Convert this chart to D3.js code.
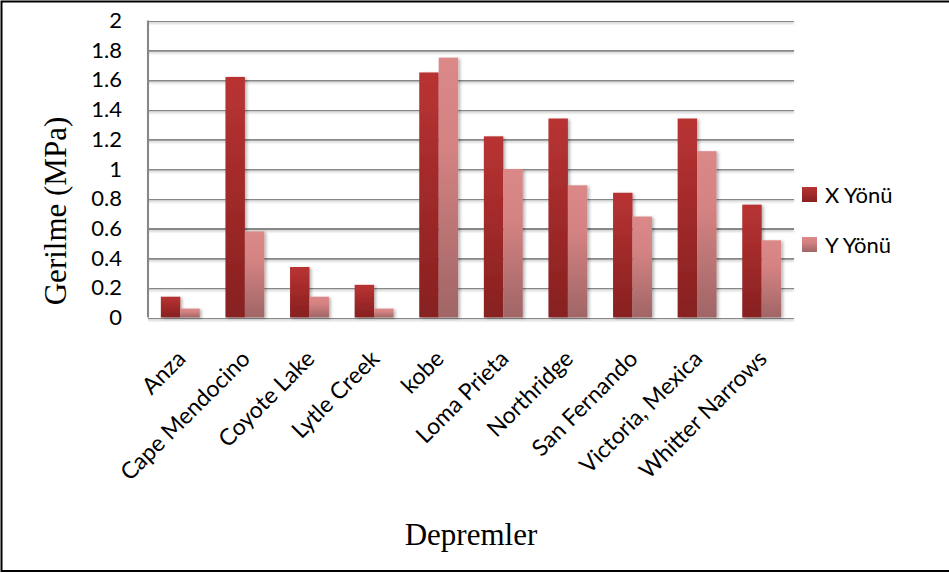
<!DOCTYPE html>
<html>
<head>
<meta charset="utf-8">
<script src="https://cdn.jsdelivr.net/npm/d3@7/dist/d3.min.js"></script>
<style>
  html, body { margin: 0; padding: 0; background: #fff; }
  svg { display: block; }
</style>
</head>
<body>
<svg id="chart" width="949" height="574"></svg>
<script>
// Earthquake records and peak stresses in two directions
const categories = ["Anza", "Cape Mendocino", "Coyote Lake", "Lytle Creek", "kobe",
  "Loma Prieta", "Northridge", "San Fernando", "Victoria, Mexica", "Whitter Narrows"];
const seriesNames = ["X Yönü", "Y Yönü"];
const xValues = [0.14, 1.62, 0.34, 0.22, 1.65, 1.22, 1.34, 0.84, 1.34, 0.76];
const yValues = [0.06, 0.58, 0.14, 0.06, 1.75, 1.00, 0.89, 0.68, 1.12, 0.52];
const yTicks = [0, 0.2, 0.4, 0.6, 0.8, 1, 1.2, 1.4, 1.6, 1.8, 2];

const rows = categories.map((c, i) => ({ name: c, values: [xValues[i], yValues[i]] }));

const svg = d3.select("#chart");
const W = 949, H = 574;
const plot = { left: 148, right: 794, top: 20.5, bottom: 317.5 };
const labelFont = "Lato, 'Open Sans', sans-serif";
const titleFont = "'Liberation Serif', 'Times New Roman', serif";
const gridColor = "#878787";

const defs = svg.append("defs");
const grads = [
  { id: "gx", stops: [["0%", "#b93333"], ["100%", "#872020"]] },
  { id: "gy", stops: [["0%", "#da8888"], ["35%", "#d48282"], ["100%", "#a06565"]] }
];
grads.forEach(g => {
  const lg = defs.append("linearGradient").attr("id", g.id)
    .attr("x1", 0).attr("y1", 0).attr("x2", 0).attr("y2", 1);
  g.stops.forEach(s => lg.append("stop").attr("offset", s[0]).attr("stop-color", s[1]));
});
const sh = defs.append("filter").attr("id", "shadow")
  .attr("x", "-20%").attr("y", "-20%").attr("width", "160%").attr("height", "140%");
sh.append("feDropShadow").attr("dx", 2).attr("dy", 1).attr("stdDeviation", 1.8)
  .attr("flood-color", "#000").attr("flood-opacity", 0.28);
// gridline shadow works in user space (lines have a zero-height bbox)
const gsh = defs.append("filter").attr("id", "gshadow")
  .attr("filterUnits", "userSpaceOnUse")
  .attr("x", 0).attr("y", 0).attr("width", W).attr("height", H);
gsh.append("feDropShadow").attr("dx", 0).attr("dy", 1.5).attr("stdDeviation", 0.8)
  .attr("flood-color", "#000").attr("flood-opacity", 0.22);

// outer frame
svg.append("path")
  .attr("d", `M${W + 5},1.5 H1.5 V571 H${W + 5}`)
  .attr("fill", "none").attr("stroke", "#000").attr("stroke-width", 2);

const x0 = d3.scaleBand().domain(categories).range([plot.left, plot.right]).paddingInner(0).paddingOuter(0);
const x1 = d3.scaleBand().domain(seriesNames).range([0, x0.bandwidth()]).paddingOuter(0.66).paddingInner(0);
const y = d3.scaleLinear().domain([0, 2]).range([plot.bottom, plot.top]);

// horizontal gridlines with left tick marks
const yAxis = d3.axisLeft(y).tickValues(yTicks).tickSize(-(plot.right - plot.left)).tickPadding(26)
  .tickFormat(d => d3.format("")(+d.toFixed(1)));
const gy = svg.append("g").attr("transform", `translate(${plot.left},0)`).call(yAxis);
gy.select(".domain").remove();
gy.selectAll(".tick line").attr("stroke", gridColor).attr("stroke-width", 2.1)
  .attr("x1", -7).attr("filter", "url(#gshadow)");
gy.selectAll(".tick text").attr("font-family", labelFont)
  .attr("font-size", 22).attr("fill", "#000");

// vertical axis line
svg.append("line").attr("x1", plot.left).attr("x2", plot.left)
  .attr("y1", plot.top).attr("y2", plot.bottom)
  .attr("stroke", gridColor).attr("stroke-width", 2.1);

// bars
const fills = ["url(#gx)", "url(#gy)"];
const groups = svg.append("g").selectAll("g").data(rows).join("g")
  .attr("transform", d => `translate(${x0(d.name)},0)`);
groups.selectAll("rect").data(d => d.values.map((v, i) => ({ v, s: seriesNames[i], i })))
  .join("rect")
  .attr("x", d => x1(d.s))
  .attr("width", x1.bandwidth())
  .attr("y", d => y(d.v))
  .attr("height", d => y(0) - y(d.v))
  .attr("fill", d => fills[d.i])
  .attr("filter", "url(#shadow)");

// category labels, rotated
const xAxis = d3.axisBottom(x0).tickSize(0).tickPadding(0);
const gx = svg.append("g").attr("transform", `translate(0,${plot.bottom})`).call(xAxis);
gx.select(".domain").remove();
gx.selectAll(".tick text")
  .attr("font-family", labelFont)
  .attr("font-size", 23).attr("fill", "#000")
  .attr("text-anchor", "end")
  .attr("dy", "0.35em")
  .attr("transform", "translate(1,37) rotate(-45)");

// axis titles
svg.append("text")
  .attr("x", (plot.left + plot.right) / 2).attr("y", 545)
  .attr("text-anchor", "middle")
  .attr("font-family", titleFont)
  .attr("font-size", 31).text("Depremler");
svg.append("text")
  .attr("transform", "translate(66,211) rotate(-90)")
  .attr("text-anchor", "middle")
  .attr("font-family", titleFont)
  .attr("font-size", 31).text("Gerilme (MPa)");

// legend
const legend = svg.append("g").attr("transform", "translate(802,187)");
const li = legend.selectAll("g").data(seriesNames).join("g")
  .attr("transform", (d, i) => `translate(0,${i * 50})`);
li.append("rect").attr("width", 15).attr("height", 15).attr("fill", (d, i) => fills[i]);
li.append("text").attr("x", 23).attr("y", 16)
  .attr("font-family", labelFont)
  .attr("font-size", 22).text(d => d);
</script>
</body>
</html>
